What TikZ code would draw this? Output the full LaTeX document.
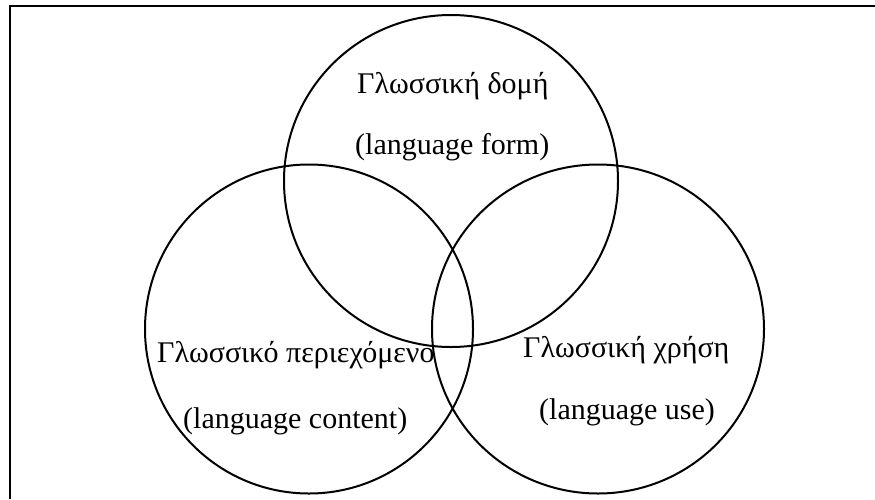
\documentclass[tikz,border=0pt]{standalone}
\usepackage{fontspec}
\setmainfont{Liberation Serif}
\begin{document}
\begin{tikzpicture}[x=1pt,y=-1pt,
  ring/.style={line width=2pt},
  lbl/.style={anchor=base west,inner sep=0pt,font=\fontsize{30}{36}\selectfont}]
\useasboundingbox (0,0) rectangle (875,499);
\draw[line width=2.6pt] (10,499) -- (10,6) -- (875,6);
\coordinate (cf) at (451,181);
\coordinate (cc) at (309,329);
\coordinate (cu) at (598,329);
\draw[ring] (cf) circle[x radius=167,y radius=166];
\draw[ring] (cc) circle[x radius=164,y radius=164.5];
\draw[ring] (cu) circle[x radius=166,y radius=164.5];
\node[lbl] (t1) at (357,93) {Γλωσσική δομή};
\node[lbl] (t2) at (355,154) {(language form)};
\node[lbl] (t3) at (157,362) {Γλωσσικό περιεχόμενο};
\node[lbl] (t4) at (183,428) {(language content)};
\node[lbl] (t5) at (523,357) {Γλωσσική χρήση};
\node[lbl] (t6) at (539,419) {(language use)};
\end{tikzpicture}
\end{document}
